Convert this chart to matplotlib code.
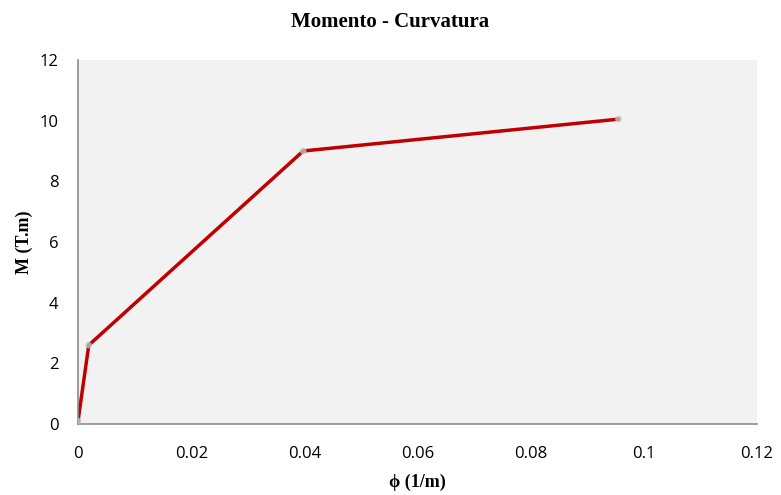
import matplotlib.pyplot as plt

# curvature (1/m) and moment (T.m)
phi = [0.0, 0.0019, 0.0398, 0.0955]
moment = [0.1, 2.6, 9.0, 10.05]

xticks = [0, 0.02, 0.04, 0.06, 0.08, 0.1, 0.12]
xtick_labels = ['0', '0.02', '0.04', '0.06', '0.08', '0.1', '0.12']
yticks = [0, 2, 4, 6, 8, 10, 12]

fig = plt.figure(figsize=(7.81, 4.95), dpi=100)
ax = fig.add_axes([0.0999, 0.1434, 0.8694, 0.7354])
ax.set_facecolor('#F2F2F2')

ax.plot(phi, moment, color='#C00000', linewidth=2.5, zorder=2)
ax.scatter(phi, moment, s=22, color='#BFBFBF', alpha=0.8, edgecolors='none', zorder=3)

ax.set_xlim(0, 0.12)
ax.set_ylim(0, 12)
ax.set_xticks(xticks)
ax.set_xticklabels(xtick_labels)
ax.set_yticks(yticks)
ax.tick_params(length=0, labelsize=12)
ax.tick_params(axis='x', pad=16)
ax.tick_params(axis='y', pad=14)
for lbl in ax.get_xticklabels() + ax.get_yticklabels():
    lbl.set_fontfamily('Open Sans')

for side in ['top', 'right']:
    ax.spines[side].set_visible(False)
for side in ['left', 'bottom']:
    ax.spines[side].set_color('#8C8C8C')
    ax.spines[side].set_linewidth(1.2)

serif = 'Liberation Serif'
ax.set_xlabel('\u03d5 (1/m)', fontfamily=[serif, 'DejaVu Serif'], fontweight='bold', fontsize=13, labelpad=8)
ax.set_ylabel('M (T.m)', fontfamily=serif, fontweight='bold', fontsize=13, labelpad=5)
fig.suptitle('Momento - Curvatura', fontfamily=serif, fontweight='bold', fontsize=15, y=0.975)

fig.savefig('out.png', dpi=100)
